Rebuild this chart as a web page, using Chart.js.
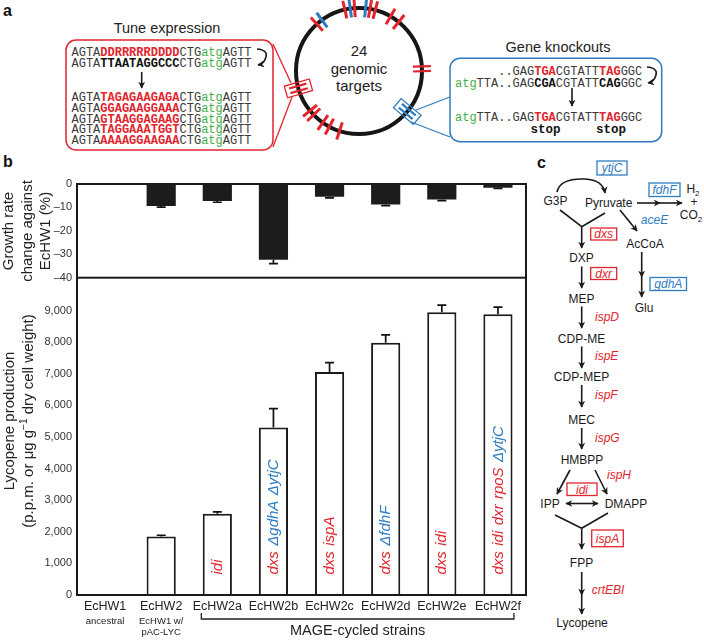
<!DOCTYPE html>
<html><head><meta charset="utf-8">
<script src="https://cdn.jsdelivr.net/npm/chart.js@4.4.1/dist/chart.umd.min.js"></script>
<style>
html,body{margin:0;padding:0;background:#fff;}
#wrap{position:relative;width:704px;height:640px;overflow:hidden;font-family:'Liberation Sans',Arial,sans-serif;}
canvas{position:absolute;}
#c1{left:0;top:170px;}
#c2{left:0;top:260px;}
svg{position:absolute;left:0;top:0;}
.mono{font-family:'Liberation Mono','Courier New',monospace;font-size:12px;fill:#3a3a3a;}
.rb{fill:#e1252d;font-weight:bold;}
.kb{fill:#111;font-weight:bold;}
.gr{fill:#3fae49;}
.it{font-style:italic;}
</style></head>
<body><div id="wrap">
<svg id="diag" width="704" height="640" xmlns="http://www.w3.org/2000/svg">
<defs>
<marker id="ah" viewBox="0 0 10 10" refX="9" refY="5" markerWidth="7" markerHeight="7" markerUnits="userSpaceOnUse" orient="auto-start-reverse"><path d="M0,0 L10,5 L0,10 L3,5 z" fill="#1a1a1a"/></marker>
</defs>
<!-- panel letters -->
<text x="3" y="16" font-size="16" font-weight="bold" fill="#111">a</text>
<text x="3" y="167" font-size="16" font-weight="bold" fill="#111">b</text>
<text x="537" y="168" font-size="16" font-weight="bold" fill="#111">c</text>

<!-- Tune expression -->
<text x="167" y="33" font-size="14.5" text-anchor="middle" fill="#222">Tune expression</text>
<rect x="66" y="40" width="207" height="110" rx="10" fill="none" stroke="#e1252d" stroke-width="1.5"/>
<text class="mono" x="71.5" y="55.5"><tspan>AGTA</tspan><tspan class="rb">DDRRRRRDDDD</tspan><tspan>CTG</tspan><tspan class="gr">atg</tspan><tspan>AGTT</tspan></text>
<text class="mono" x="71.5" y="67.3"><tspan>AGTA</tspan><tspan class="kb">TTAATAGGCCC</tspan><tspan>CTG</tspan><tspan class="gr">atg</tspan><tspan>AGTT</tspan></text>
<text class="mono" x="71.5" y="100.7"><tspan>AGTA</tspan><tspan class="rb">TAGAGAAGAGA</tspan><tspan>CTG</tspan><tspan class="gr">atg</tspan><tspan>AGTT</tspan></text>
<text class="mono" x="71.5" y="111.7"><tspan>AGTA</tspan><tspan class="rb">GGAGAAGGAAA</tspan><tspan>CTG</tspan><tspan class="gr">atg</tspan><tspan>AGTT</tspan></text>
<text class="mono" x="71.5" y="122.5"><tspan>AGTA</tspan><tspan class="rb">GTAAGGAGAAG</tspan><tspan>CTG</tspan><tspan class="gr">atg</tspan><tspan>AGTT</tspan></text>
<text class="mono" x="71.5" y="133.3"><tspan>AGTA</tspan><tspan class="rb">TAGGAAATGGT</tspan><tspan>CTG</tspan><tspan class="gr">atg</tspan><tspan>AGTT</tspan></text>
<text class="mono" x="71.5" y="144"><tspan>AGTA</tspan><tspan class="rb">AAAAGGAAGAA</tspan><tspan>CTG</tspan><tspan class="gr">atg</tspan><tspan>AGTT</tspan></text>
<line x1="141.7" y1="72" x2="141.7" y2="88" stroke="#1a1a1a" stroke-width="1.6" marker-end="url(#ah)"/>
<path d="M257 49 Q268 50 266 57 Q264 64 258 65" fill="none" stroke="#1a1a1a" stroke-width="1.6" marker-end="url(#ah)"/>
<line x1="273" y1="44" x2="291" y2="83" stroke="#e1252d" stroke-width="1.3"/>
<line x1="273" y1="147" x2="292" y2="97" stroke="#e1252d" stroke-width="1.3"/>

<!-- genome circle -->
<circle cx="359" cy="71" r="63" fill="none" stroke="#161616" stroke-width="4"/>
<g id="marks"></g>
<text x="359" y="56" font-size="15" text-anchor="middle" fill="#222">24</text>
<text x="359" y="73.5" font-size="15" text-anchor="middle" fill="#222">genomic</text>
<text x="359" y="91" font-size="15" text-anchor="middle" fill="#222">targets</text>

<!-- Gene knockouts -->
<text x="558" y="52" font-size="14.5" text-anchor="middle" fill="#222">Gene knockouts</text>
<rect x="450" y="58.3" width="211.7" height="83.4" rx="10" fill="none" stroke="#2f7cc1" stroke-width="1.5"/>
<line x1="416" y1="110" x2="450" y2="97" stroke="#2f7cc1" stroke-width="1.3"/>
<line x1="411" y1="122" x2="450" y2="137" stroke="#2f7cc1" stroke-width="1.3"/>
<text class="mono" x="498.2" y="75"><tspan>..GAG</tspan><tspan class="rb">TGA</tspan><tspan>CGTATT</tspan><tspan class="rb">TAG</tspan><tspan>GGC</tspan></text>
<text class="mono" x="455" y="87.3"><tspan class="gr">atg</tspan><tspan>TTA..GAG</tspan><tspan class="kb">CGA</tspan><tspan>CGTATT</tspan><tspan class="kb">CAG</tspan><tspan>GGC</tspan></text>
<text class="mono" x="455" y="120.7"><tspan class="gr">atg</tspan><tspan>TTA..GAG</tspan><tspan class="rb">TGA</tspan><tspan>CGTATT</tspan><tspan class="rb">TAG</tspan><tspan>GGC</tspan></text>
<text x="545.5" y="133" font-family="'Liberation Mono','Courier New',monospace" font-size="12.5" font-weight="bold" text-anchor="middle" fill="#111">stop</text>
<text x="611" y="133" font-family="'Liberation Mono','Courier New',monospace" font-size="12.5" font-weight="bold" text-anchor="middle" fill="#111">stop</text>
<line x1="572" y1="88" x2="572" y2="106" stroke="#1a1a1a" stroke-width="1.6" marker-end="url(#ah)"/>
<path d="M647 67 Q658 68 656 75 Q654 82 648 83" fill="none" stroke="#1a1a1a" stroke-width="1.6" marker-end="url(#ah)"/>

<!-- Panel c pathway -->
<g font-size="12" fill="#1a1a1a" stroke="none">
<text x="555.5" y="205" text-anchor="middle">G3P</text>
<text x="608.7" y="207" text-anchor="middle">Pyruvate</text>
<text x="645" y="248" text-anchor="middle">AcCoA</text>
<text x="644" y="312" text-anchor="middle">Glu</text>
<text x="693" y="193" text-anchor="middle">H<tspan font-size="8" dy="3">2</tspan></text>
<text x="694" y="206" text-anchor="middle">+</text>
<text x="691" y="219" text-anchor="middle">CO<tspan font-size="8" dy="3">2</tspan></text>
<text x="581.5" y="262" text-anchor="middle">DXP</text>
<text x="581.5" y="302.5" text-anchor="middle">MEP</text>
<text x="581.5" y="343" text-anchor="middle">CDP-ME</text>
<text x="581.5" y="381" text-anchor="middle">CDP-MEP</text>
<text x="581.5" y="424" text-anchor="middle">MEC</text>
<text x="582" y="464" text-anchor="middle">HMBPP</text>
<text x="550" y="508" text-anchor="middle">IPP</text>
<text x="626" y="508" text-anchor="middle">DMAPP</text>
<text x="581.5" y="567" text-anchor="middle">FPP</text>
<text x="582" y="627" text-anchor="middle">Lycopene</text>
</g>
<g font-size="12" font-style="italic">
<rect x="597" y="161" width="30" height="14" fill="none" stroke="#2f7cc1" stroke-width="1.3"/>
<text x="612" y="172" text-anchor="middle" fill="#2f7cc1">ytjC</text>
<rect x="649" y="183" width="31" height="13.5" fill="none" stroke="#2f7cc1" stroke-width="1.3"/>
<text x="664.5" y="194" text-anchor="middle" fill="#2f7cc1">fdhF</text>
<text x="654.5" y="224" text-anchor="middle" fill="#2f7cc1">aceE</text>
<rect x="650" y="277.5" width="36.5" height="13" fill="none" stroke="#2f7cc1" stroke-width="1.3"/>
<text x="668.3" y="288.3" text-anchor="middle" fill="#2f7cc1">gdhA</text>
<rect x="590.7" y="228" width="26" height="12" fill="none" stroke="#e1252d" stroke-width="1.3"/>
<text x="603.7" y="238" text-anchor="middle" fill="#e1252d">dxs</text>
<rect x="590.7" y="267.5" width="26" height="12" fill="none" stroke="#e1252d" stroke-width="1.3"/>
<text x="603.7" y="277.5" text-anchor="middle" fill="#e1252d">dxr</text>
<text x="595" y="320.5" fill="#e1252d">ispD</text>
<text x="595" y="360" fill="#e1252d">ispE</text>
<text x="595" y="399" fill="#e1252d">ispF</text>
<text x="595" y="441.7" fill="#e1252d">ispG</text>
<text x="607" y="479" fill="#e1252d">ispH</text>
<rect x="567" y="483" width="30" height="12.5" fill="none" stroke="#e1252d" stroke-width="1.3"/>
<text x="582" y="493.5" text-anchor="middle" fill="#e1252d">idi</text>
<rect x="591.7" y="530" width="31.6" height="16.7" fill="none" stroke="#e1252d" stroke-width="1.3"/>
<text x="607.5" y="542.5" text-anchor="middle" fill="#e1252d">ispA</text>
<text x="591.7" y="594" fill="#e1252d">crtEBI</text>
</g>
<g stroke="#1a1a1a" stroke-width="1.6" fill="none">
<path d="M557 192 Q560 178 585 179 Q603 180 605 193" marker-end="url(#ah)"/>
<line x1="637" y1="203" x2="660" y2="203" marker-end="url(#ah)"/>
<line x1="660" y1="203" x2="682" y2="203" marker-end="url(#ah)"/>
<line x1="620" y1="210" x2="637" y2="231" marker-end="url(#ah)"/>
<line x1="641.7" y1="252" x2="641.7" y2="277" marker-end="url(#ah)"/>
<line x1="641.7" y1="277" x2="641.7" y2="297" marker-end="url(#ah)"/>
<line x1="560" y1="210" x2="581.7" y2="226.7"/>
<line x1="605" y1="213" x2="581.7" y2="226.7"/>
<line x1="581.7" y1="226.7" x2="581.7" y2="248" marker-end="url(#ah)"/>
<line x1="581.7" y1="266.5" x2="581.7" y2="288" marker-end="url(#ah)"/>
<line x1="581.7" y1="306.5" x2="581.7" y2="328" marker-end="url(#ah)"/>
<line x1="581.7" y1="346.5" x2="581.7" y2="368" marker-end="url(#ah)"/>
<line x1="581.7" y1="385" x2="581.7" y2="407" marker-end="url(#ah)"/>
<line x1="581.7" y1="428" x2="581.7" y2="449" marker-end="url(#ah)"/>
<line x1="570" y1="470" x2="557" y2="494" marker-end="url(#ah)"/>
<line x1="595" y1="470" x2="607" y2="494" marker-end="url(#ah)"/>
<line x1="566" y1="503.5" x2="598" y2="503.5" marker-start="url(#ah)" marker-end="url(#ah)"/>
<line x1="555" y1="515" x2="581.7" y2="528.3"/>
<line x1="608" y1="513" x2="581.7" y2="528.3"/>
<line x1="581.7" y1="528.3" x2="581.7" y2="549" marker-end="url(#ah)"/>
<line x1="581.7" y1="572" x2="581.7" y2="595" marker-end="url(#ah)"/>
<line x1="581.7" y1="595" x2="581.7" y2="614" marker-end="url(#ah)"/>
</g>
</svg>
<canvas id="c1" width="540" height="120"></canvas>
<canvas id="c2" width="540" height="380"></canvas>
</div>
<script>
// ---------- data ----------
const categories = ['EcHW1','EcHW2','EcHW2a','EcHW2b','EcHW2c','EcHW2d','EcHW2e','EcHW2f'];
const subLabels = [['ancestral'],['EcHW1 w/','pAC-LYC'],[],[],[],[],[],[]];
const growthChange = [0, -9.4, -7.3, -32.3, -5.4, -8.7, -6.6, -1.6];
const growthErr    = [0, 0.5, 0.5, 1.7, 0.5, 0.5, 0.5, 0.3];
const lycopene     = [0, 1850, 2570, 5300, 7060, 7980, 8950, 8880];
const lycopeneErr  = [0, 40, 60, 600, 290, 250, 220, 230];
const growthTicks  = [0, -10, -20, -30, -40];
const lycopeneTicks = [0,1000,2000,3000,4000,5000,6000,7000,8000,9000];
const mutations = [
  [], [],
  [['idi','r']],
  [['dxs','r'],['\u0394gdhA','b'],['\u0394ytjC','b']],
  [['dxs','r'],['ispA','r']],
  [['dxs','r'],['\u0394fdhF','b']],
  [['dxs','r'],['idi','r']],
  [['dxs','r'],['idi','r'],['dxr','r'],['rpoS','r'],['\u0394ytjC','b']]
];
const bracketText = 'MAGE-cycled strains';
const bracketRange = [2, 7];

// ---------- genome circle marks ----------
const RED = '#e1252d', BLUE = '#2f7cc1';
const marks = [[-132,'r'],[-126,'b'],[-103,'r'],[-98,'b'],[-94,'r'],[-84,'b'],[-80,'r'],[-75,'r'],[-60,'r'],[-51,'r'],[-2,'r',2],[40,'b',2,1],[108,'r'],[118,'r'],[125,'r'],[136,'r'],[141,'r'],[164,'r',2,1]];
(function(){
  const g = document.getElementById('marks'); const NS='http://www.w3.org/2000/svg';
  const cx=359, cy=71, R=63;
  marks.forEach(m=>{
    const a=m[0]*Math.PI/180, col=m[1]==='r'?RED:BLUE, n=m[2]||1, boxed=m[3];
    const ux=Math.cos(a), uy=Math.sin(a), tx=-uy, ty=ux;
    const offs = n===2?[-2.4,2.4]:[0];
    offs.forEach(o=>{
      const l=document.createElementNS(NS,'line');
      const L = boxed?9:9;
      l.setAttribute('x1',cx+ux*(R-L)+tx*o); l.setAttribute('y1',cy+uy*(R-L)+ty*o);
      l.setAttribute('x2',cx+ux*(R+L)+tx*o); l.setAttribute('y2',cy+uy*(R+L)+ty*o);
      l.setAttribute('stroke',col); l.setAttribute('stroke-width', n===2?2.2:3);
      g.appendChild(l);
    });
    if(boxed){
      const r=document.createElementNS(NS,'rect');
      const px=cx+ux*R, py=cy+uy*R;
      r.setAttribute('x',px-13); r.setAttribute('y',py-6); r.setAttribute('width',26); r.setAttribute('height',12);
      r.setAttribute('fill','none'); r.setAttribute('stroke',col); r.setAttribute('stroke-width',1.3);
      r.setAttribute('transform','rotate('+m[0]+' '+px+' '+py+')');
      g.appendChild(r);
    }
  });
})();

// ---------- charts ----------
Chart.defaults.font.family = "'Liberation Sans', Arial, sans-serif";
Chart.defaults.animation = false;
const FONT = "'Liberation Sans', Arial, sans-serif";

function errorBars(errs, dir){
  return { id:'errbars', afterDatasetsDraw(c){
    const meta=c.getDatasetMeta(0), ys=c.scales.y, ctx=c.ctx, vals=c.data.datasets[0].data;
    ctx.save(); ctx.strokeStyle='#111'; ctx.lineWidth=1.7;
    meta.data.forEach((bar,i)=>{
      const e=errs[i]; if(!e) return;
      const y0=ys.getPixelForValue(vals[i]), y1=ys.getPixelForValue(vals[i]+dir*e);
      ctx.beginPath(); ctx.moveTo(bar.x,y0); ctx.lineTo(bar.x,y1);
      ctx.moveTo(bar.x-4.5,y1); ctx.lineTo(bar.x+4.5,y1); ctx.stroke();
    });
    ctx.restore();
  }};
}
function yTitle(lines, xs, cyGlobalOffset){
  return { id:'ytitle', afterDraw(c){
    const ctx=c.ctx; ctx.save(); ctx.fillStyle='#222'; ctx.font='15px '+FONT;
    ctx.textAlign='center'; ctx.textBaseline='middle';
    lines.forEach((ln,i)=>{
      ctx.save(); ctx.translate(xs[i], cyGlobalOffset); ctx.rotate(-Math.PI/2);
      if(Array.isArray(ln)){
        // segments: [text, size, dy]
        let total=0; ln.forEach(s=>{ctx.font=s[1]+'px '+FONT; total+=ctx.measureText(s[0]).width;});
        let x=-total/2; ctx.textAlign='left';
        ln.forEach(s=>{ctx.font=s[1]+'px '+FONT; ctx.fillText(s[0],x,s[2]); x+=ctx.measureText(s[0]).width;});
      } else ctx.fillText(ln,0,0);
      ctx.restore();
    });
    ctx.restore();
  }};
}

const c1 = new Chart(document.getElementById('c1'), {
  type:'bar',
  data:{ labels:categories, datasets:[{ data:growthChange, backgroundColor:'#1c1c1c', borderWidth:0, barPercentage:0.52, categoryPercentage:1 }]},
  options:{
    responsive:false, events:[],
    layout:{ padding:{ top:14, bottom:12.3, left:0, right:14 } },
    plugins:{ legend:{display:false}, tooltip:{enabled:false} },
    scales:{
      x:{ display:false },
      y:{ min:-40, max:0, afterFit(s){ s.width=77; },
          afterBuildTicks(s){ s.ticks = growthTicks.map(v=>({value:v})); },
          grid:{display:false, drawTicks:false}, border:{display:false},
          ticks:{ padding:5, color:'#333', font:{size:11}, callback:v=> v===0?'0':'\u2013'+Math.abs(v) } }
    }
  },
  plugins:[ errorBars(growthErr,-1),
    { id:'frame', afterDraw(c){ const a=c.chartArea, ctx=c.ctx; ctx.save(); ctx.strokeStyle='#1a1a1a'; ctx.lineWidth=2;
        ctx.strokeRect(a.left,a.top,a.right-a.left,a.bottom-a.top); ctx.restore(); } },
    yTitle(['Growth rate','change against','EcHW1 (%)'], [9,27.5,46], 61)
  ]
});

const c2 = new Chart(document.getElementById('c2'), {
  type:'bar',
  data:{ labels:categories, datasets:[{ data:lycopene, backgroundColor:'#fff', borderColor:'#1a1a1a', borderWidth:2, borderSkipped:'start', barPercentage:0.52, categoryPercentage:1 }]},
  options:{
    responsive:false, events:[],
    layout:{ padding:{ top:17.7, bottom:45, left:0, right:14 } },
    plugins:{ legend:{display:false}, tooltip:{enabled:false} },
    scales:{
      x:{ display:false },
      y:{ min:0, max:10040, afterFit(s){ s.width=77; },
          afterBuildTicks(s){ s.ticks = lycopeneTicks.map(v=>({value:v})); },
          grid:{display:false, drawTicks:false}, border:{display:false},
          ticks:{ padding:5, color:'#333', font:{size:11}, callback:v=> v.toLocaleString('en-US') } }
    }
  },
  plugins:[ errorBars(lycopeneErr,1),
    { id:'frame2', afterDraw(c){ const a=c.chartArea, ctx=c.ctx; ctx.save(); ctx.strokeStyle='#1a1a1a'; ctx.lineWidth=2;
        ctx.beginPath(); ctx.moveTo(a.left,a.top-1); ctx.lineTo(a.left,a.bottom); ctx.lineTo(a.right,a.bottom); ctx.lineTo(a.right,a.top-1); ctx.stroke(); ctx.restore(); } },
    { id:'notes', afterDatasetsDraw(c){
        const meta=c.getDatasetMeta(0), ys=c.scales.y, ctx=c.ctx;
        ctx.save(); ctx.font='italic 15px '+FONT; ctx.textBaseline='middle'; ctx.textAlign='left';
        const sp=ctx.measureText(' ').width;
        meta.data.forEach((bar,i)=>{
          const segs=mutations[i]; if(!segs.length) return;
          ctx.save(); ctx.translate(bar.x+0.5, ys.getPixelForValue(0)-20.5); ctx.rotate(-Math.PI/2);
          let x=0;
          segs.forEach(s=>{ ctx.fillStyle = s[1]==='r'?RED:BLUE; ctx.fillText(s[0],x,0); x+=ctx.measureText(s[0]).width+sp*1.3; });
          ctx.restore();
        });
        ctx.restore();
    }},
    { id:'xlabels', afterDraw(c){
        const meta=c.getDatasetMeta(0), ys=c.scales.y, ctx=c.ctx, y0=ys.getPixelForValue(0);
        ctx.save(); ctx.fillStyle='#222'; ctx.textAlign='center'; ctx.textBaseline='middle';
        meta.data.forEach((bar,i)=>{
          ctx.font='12.5px '+FONT; ctx.fillText(categories[i], bar.x, y0+12);
          ctx.font='9.5px '+FONT;
          subLabels[i].forEach((s,k)=>{ ctx.fillText(s, bar.x, y0+26+k*11.5); });
        });
        const xa=meta.data[bracketRange[0]].x-16, xb=meta.data[bracketRange[1]].x+16, yb=y0+24;
        ctx.strokeStyle='#222'; ctx.lineWidth=1.3;
        ctx.beginPath(); ctx.moveTo(xa,yb-6); ctx.lineTo(xa,yb); ctx.lineTo(xb,yb); ctx.lineTo(xb,yb-6); ctx.stroke();
        ctx.font='14.5px '+FONT; ctx.fillText(bracketText,(xa+xb)/2, y0+36);
        ctx.restore();
    }},
    yTitle(['Lycopene production', [['(p.p.m. or \u03bcg g',15,0],['\u22121',10,-5],[' dry cell weight)',15,0]]], [10,29], 161)
  ]
});
</script>
</body></html>
